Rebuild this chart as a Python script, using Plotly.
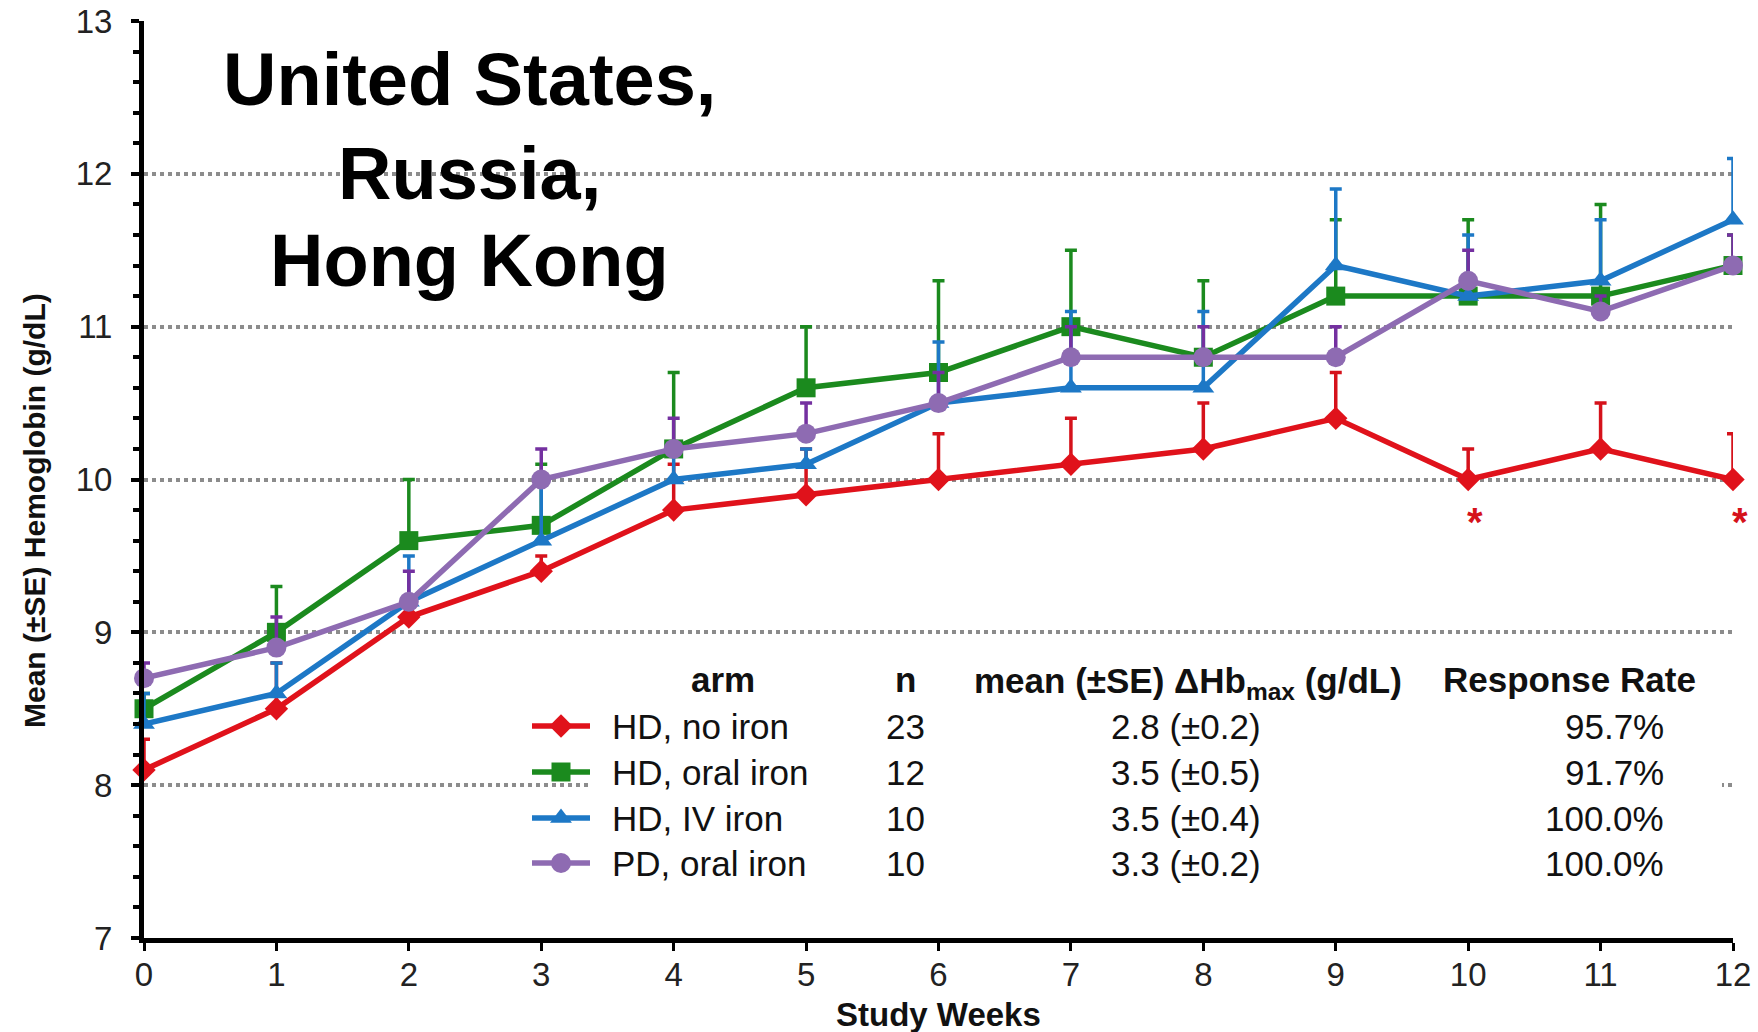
import plotly.graph_objects as go

# ---------------- data ----------------
weeks = [0, 1, 2, 3, 4, 5, 6, 7, 8, 9, 10, 11, 12]

hd_no_iron = [8.1, 8.5, 9.1, 9.4, 9.8, 9.9, 10.0, 10.1, 10.2, 10.4, 10.0, 10.2, 10.0]
hd_no_iron_upper = [8.3, 8.8, 9.2, 9.5, 10.1, 10.2, 10.3, 10.4, 10.5, 10.7, 10.2, 10.5, 10.3]

hd_oral_iron = [8.5, 9.0, 9.6, 9.7, 10.2, 10.6, 10.7, 11.0, 10.8, 11.2, 11.2, 11.2, 11.4]
hd_oral_iron_upper = [8.6, 9.3, 10.0, 10.1, 10.7, 11.0, 11.3, 11.5, 11.3, 11.7, 11.7, 11.8, 11.6]

hd_iv_iron = [8.4, 8.6, 9.2, 9.6, 10.0, 10.1, 10.5, 10.6, 10.6, 11.4, 11.2, 11.3, 11.7]
hd_iv_iron_upper = [8.6, 8.8, 9.5, 10.0, 10.2, 10.2, 10.9, 11.1, 11.1, 11.9, 11.6, 11.7, 12.1]

pd_oral_iron = [8.7, 8.9, 9.2, 10.0, 10.2, 10.3, 10.5, 10.8, 10.8, 10.8, 11.3, 11.1, 11.4]
pd_oral_iron_upper = [8.8, 9.1, 9.4, 10.2, 10.4, 10.5, 10.7, 11.0, 11.0, 11.0, 11.5, 11.2, 11.6]

arm_names = ["HD, no iron", "HD, oral iron", "HD, IV iron", "PD, oral iron"]
arm_n = [23, 12, 10, 10]
delta_hb_mean = [2.8, 3.5, 3.5, 3.3]
delta_hb_se = [0.2, 0.5, 0.4, 0.2]
response_rate = [95.7, 91.7, 100.0, 100.0]

significant_weeks = [10, 12]          # weeks marked with *
significant_values = [10.0, 10.0]     # HD, no iron values at those weeks

y_ticks = [7, 8, 9, 10, 11, 12, 13]
title_lines = ["United States,", "Russia,", "Hong Kong"]

# ---------------- styling ----------------
series = [
    dict(name=arm_names[0], y=hd_no_iron, up=hd_no_iron_upper, color="#E0121B", err="#D5121B",
         symbol="diamond", size=18),
    dict(name=arm_names[1], y=hd_oral_iron, up=hd_oral_iron_upper, color="#1B8A1E", err="#1B8A1E",
         symbol="square", size=19),
    dict(name=arm_names[2], y=hd_iv_iron, up=hd_iv_iron_upper, color="#1D78C6", err="#1D78C6",
         symbol="triangle-up", size=19),
    dict(name=arm_names[3], y=pd_oral_iron, up=pd_oral_iron_upper, color="#8E6BB2", err="#7430A0",
         symbol="circle", size=20),
]

W, H = 1758, 1032
L, R, T, B = 144, 1733, 21, 938
XMIN, XMAX, YMIN, YMAX = 0, 12, 7, 13


def xd(px):  # pixel x -> data x
    return XMIN + (px - L) / (R - L) * (XMAX - XMIN)


def yd(py):  # pixel y -> data y
    return YMAX - (py - T) / (B - T) * (YMAX - YMIN)


def xp(px):  # pixel x -> paper x
    return (px - L) / (R - L)


def yp(py):  # pixel y -> paper y
    return (B - py) / (B - T)


def x2paper(x):
    return (x - XMIN) / (XMAX - XMIN)


def y2paper(y):
    return (y - YMIN) / (YMAX - YMIN)


FONT = "Liberation Sans, Arial, sans-serif"
LW = 5.5
fig = go.Figure()

for s in series:
    fig.add_trace(go.Scatter(
        x=weeks, y=s["y"], mode="lines+markers", name=s["name"], showlegend=False,
        line=dict(color=s["color"], width=LW),
        marker=dict(symbol=s["symbol"], size=s["size"], color=s["color"], opacity=1,
                    line=dict(width=0)),
        error_y=dict(type="data", symmetric=False,
                     array=[u - v for u, v in zip(s["up"], s["y"])],
                     arrayminus=[0] * len(s["y"]),
                     color=s["err"], thickness=3.5, width=6),
        cliponaxis=False,
    ))

# ---------------- legend table ----------------
row_px = [726, 772, 818, 863]
header_px = 679
leg_x0, leg_xm, leg_x1 = 532, 561, 590
for s, rpy in zip(series, row_px):
    fig.add_trace(go.Scatter(
        x=[xd(leg_x0), xd(leg_x1)], y=[yd(rpy)] * 2,
        mode="lines", showlegend=False, hoverinfo="skip", cliponaxis=False,
        line=dict(color=s["color"], width=LW),
    ))
    fig.add_trace(go.Scatter(
        x=[xd(leg_xm)], y=[yd(rpy)],
        mode="markers", showlegend=False, hoverinfo="skip", cliponaxis=False,
        marker=dict(symbol=s["symbol"], size=s["size"], color=s["color"], opacity=1,
                    line=dict(width=0)),
    ))

annotations = []
TF = 35


def ann(text, px, py, xanchor="center", size=TF, bold=False, color="#111", **kw):
    annotations.append(dict(
        text=f"<b>{text}</b>" if bold else text, x=xp(px), y=yp(py), xref="paper", yref="paper",
        xanchor=xanchor, yanchor="middle", showarrow=False,
        font=dict(family=FONT, size=size, color=color), **kw))


ann("arm", 723, header_px, bold=True)
ann("n", 905, header_px, bold=True)
ann("mean (±SE) ΔHb<sub>max</sub> (g/dL)", 1188, header_px + 4, bold=True)
ann("Response Rate", 1569, header_px, bold=True)

for i, rpy in enumerate(row_px):
    ann(arm_names[i], 610, rpy, xanchor="left")
    ann(str(arm_n[i]), 905, rpy)
    ann(f"{delta_hb_mean[i]:.1f} (±{delta_hb_se[i]:.1f})", 1186, rpy)
    ann(f"{response_rate[i]:.1f}%", 1666, rpy, xanchor="right")

# title block
for line, py in zip(title_lines, [80, 174, 260]):
    ann(line, 469, py, bold=True, size=74, color="#000")

# axis titles
ann("Mean (±SE) Hemoglobin (g/dL)", 34, 511, bold=True, size=30, color="#111", textangle=-90)
ann("Study Weeks", 938, 1014, bold=True, size=33, color="#111")

# significance asterisks (placed just below the marked points)
for wk, val in zip(significant_weeks, significant_values):
    annotations.append(dict(text="<b>*</b>", x=x2paper(wk + 0.05), y=y2paper(val),
                            xref="paper", yref="paper",
                            xanchor="center", yanchor="middle", yshift=-42, showarrow=False,
                            font=dict(family=FONT, size=40, color="#D5121B")))

fig.update_layout(
    width=W, height=H,
    margin=dict(l=L, r=W - R, t=T, b=H - B, pad=0, autoexpand=False),
    paper_bgcolor="white", plot_bgcolor="white",
    showlegend=False,
    annotations=annotations,
    shapes=[dict(type="rect", xref="x", yref="y", layer="between",
                 x0=xd(592), x1=xd(1722), y0=yd(880), y1=yd(700),
                 fillcolor="white", line=dict(width=0))],
    xaxis=dict(range=[XMIN, XMAX], tickvals=weeks, showgrid=False, zeroline=False,
               automargin=False,
               showline=True, linecolor="black", linewidth=5,
               ticks="outside", ticklen=8, tickwidth=3, tickcolor="black",
               tickfont=dict(family=FONT, size=33, color="#222"), ticklabelstandoff=-5),
    yaxis=dict(range=[YMIN, YMAX], tickvals=y_ticks, showgrid=True, gridcolor="#8C8C8C",
               griddash="dot", gridwidth=4, zeroline=False, automargin=False,
               showline=True, linecolor="black", linewidth=5,
               ticks="outside", ticklen=8, tickwidth=4, tickcolor="black",
               minor=dict(dtick=0.2, tick0=7, ticks="outside", ticklen=6, tickwidth=4,
                          tickcolor="black", showgrid=False),
               tickfont=dict(family=FONT, size=33, color="#222"), ticklabelstandoff=12),
)

fig.write_html("out.html")
